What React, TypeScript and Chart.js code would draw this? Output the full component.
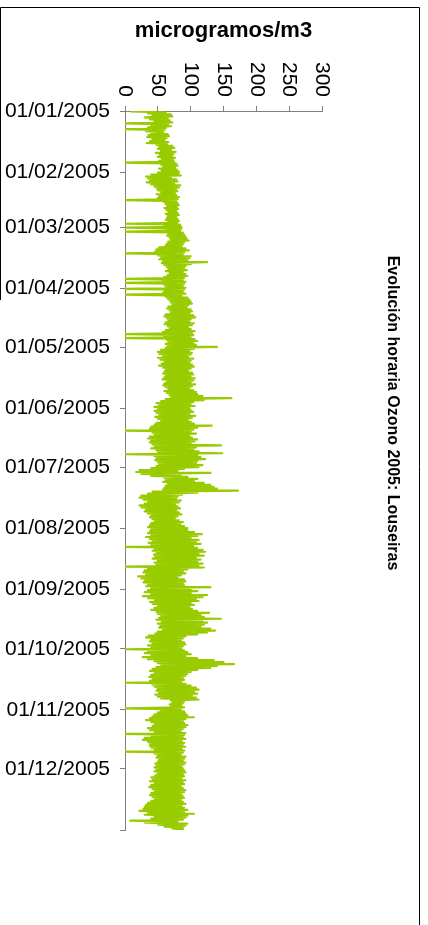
import React, { useEffect, useRef } from "react";
import { Chart, registerables } from "chart.js";

Chart.register(...registerables);

const FONT = '"Liberation Sans", Arial, Helvetica, sans-serif';
const TITLE = "Evolución horaria Ozono 2005: Louseiras";
const AXIS_TITLE = "microgramos/m3";

// day index of each month start (2005) and the date tick labels
const monthStarts = [0, 31, 59, 90, 120, 151, 181, 212, 243, 273, 304, 334, 365];
const dateLabels = [
  "01/01/2005", "01/02/2005", "01/03/2005", "01/04/2005", "01/05/2005", "01/06/2005",
  "01/07/2005", "01/08/2005", "01/09/2005", "01/10/2005", "01/11/2005", "01/12/2005", "",
];

// daily low / high of the hourly ozone values (µg/m3)
const lowJan = [8, 35, 42, 30, 38, 45, 0, 40, 35, 0, 32, 40, 36, 34, 42, 38, 33, 48, 52, 50, 55, 47, 53, 50, 56, 52, 0, 55, 58, 52, 56];
const highJan = [62, 70, 72, 65, 68, 72, 66, 70, 62, 60, 58, 65, 67, 63, 60, 66, 64, 72, 75, 70, 77, 74, 72, 76, 73, 75, 78, 80, 76, 79, 82];
const lowFeb = [50, 40, 32, 35, 38, 33, 40, 45, 48, 50, 55, 48, 52, 50, 0, 60, 62, 64, 60, 63, 66, 62, 65, 64, 62, 66, 0, 60];
const highFeb = [82, 85, 70, 78, 80, 75, 84, 82, 78, 80, 76, 78, 82, 80, 78, 80, 82, 79, 81, 78, 80, 82, 78, 80, 82, 80, 84, 86];
const lowMar = [0, 65, 0, 66, 64, 68, 70, 66, 64, 62, 52, 48, 46, 0, 50, 55, 52, 58, 56, 60, 64, 66, 62, 68, 65, 60, 0, 58, 0, 60, 62];
const highMar = [86, 84, 88, 90, 92, 94, 97, 90, 88, 86, 92, 97, 90, 88, 100, 98, 95, 125, 100, 92, 90, 94, 88, 92, 95, 90, 88, 92, 90, 88, 92];
const lowApr = [0, 60, 58, 0, 62, 65, 68, 70, 72, 66, 64, 68, 70, 62, 60, 64, 66, 62, 60, 65, 68, 62, 58, 0, 60, 0, 64, 66, 62, 65];
const highApr = [90, 88, 92, 86, 95, 98, 100, 102, 96, 94, 100, 102, 98, 104, 107, 100, 98, 105, 102, 96, 100, 106, 102, 104, 100, 106, 110, 104, 108, 140];
const lowMay = [62, 55, 50, 52, 58, 50, 54, 60, 56, 52, 58, 62, 60, 58, 62, 60, 57, 64, 60, 58, 62, 66, 60, 64, 68, 70, 62, 55, 48, 52, 45];
const highMay = [105, 98, 102, 100, 96, 104, 100, 98, 102, 105, 100, 96, 102, 104, 100, 106, 104, 100, 107, 102, 98, 104, 108, 110, 118, 162, 120, 104, 100, 106, 98];
const lowJun = [50, 45, 48, 52, 46, 50, 55, 48, 45, 40, 38, 0, 42, 45, 38, 35, 40, 38, 42, 45, 40, 48, 50, 0, 45, 48, 46, 50, 52, 48];
const highJun = [100, 104, 98, 107, 102, 96, 100, 105, 132, 110, 104, 100, 108, 98, 102, 110, 106, 100, 146, 108, 104, 112, 148, 110, 115, 122, 110, 108, 118, 112];
const lowJul = [40, 22, 17, 25, 40, 60, 62, 58, 65, 62, 60, 58, 42, 35, 25, 22, 28, 35, 30, 22, 25, 32, 30, 35, 40, 38, 42, 45, 40, 38, 35];
const highJul = [90, 80, 130, 85, 95, 110, 105, 120, 130, 135, 140, 172, 110, 87, 80, 78, 85, 82, 76, 80, 84, 78, 82, 86, 80, 76, 82, 88, 84, 90, 95];
const lowAug = [40, 38, 35, 40, 32, 38, 42, 36, 40, 0, 45, 42, 48, 44, 46, 42, 50, 45, 48, 0, 35, 30, 28, 32, 20, 25, 30, 28, 35, 32, 40];
const highAug = [95, 105, 117, 110, 100, 112, 108, 115, 104, 110, 118, 122, 112, 120, 108, 115, 110, 118, 112, 120, 95, 88, 92, 85, 80, 90, 92, 88, 90, 130, 100];
const lowSep = [35, 30, 40, 27, 35, 45, 38, 42, 50, 45, 40, 48, 50, 55, 52, 48, 56, 50, 54, 52, 58, 50, 46, 36, 32, 40, 38, 42, 35, 40];
const highSep = [110, 100, 125, 118, 108, 112, 100, 105, 98, 102, 110, 128, 115, 120, 146, 118, 125, 120, 115, 130, 137, 125, 110, 92, 88, 85, 90, 92, 88, 86];
const lowOct = [0, 35, 30, 40, 27, 35, 45, 50, 55, 48, 42, 38, 45, 40, 37, 42, 38, 0, 42, 45, 50, 48, 52, 46, 50, 55, 70, 72, 68, 70, 0];
const highOct = [90, 95, 100, 92, 110, 135, 150, 166, 140, 130, 110, 100, 95, 92, 88, 90, 86, 92, 100, 108, 112, 105, 110, 102, 108, 112, 90, 88, 86, 90, 85];
const lowNov = [55, 50, 45, 42, 38, 32, 40, 45, 42, 35, 38, 45, 0, 40, 30, 27, 35, 38, 38, 40, 45, 0, 45, 50, 48, 52, 50, 46, 48, 45];
const highNov = [90, 92, 95, 105, 92, 88, 90, 95, 92, 88, 85, 92, 90, 88, 92, 86, 90, 88, 92, 86, 90, 88, 85, 92, 90, 88, 92, 90, 86, 88];
const lowDec = [48, 45, 50, 46, 40, 42, 38, 45, 40, 37, 42, 45, 40, 38, 42, 45, 40, 35, 32, 30, 28, 22, 35, 30, 45, 40, 8, 30, 50, 60, 72];
const highDec = [90, 92, 88, 90, 86, 92, 88, 90, 85, 88, 92, 90, 86, 88, 90, 85, 88, 92, 86, 90, 95, 90, 105, 95, 92, 88, 80, 95, 92, 88, 90];

const lows = [lowJan, lowFeb, lowMar, lowApr, lowMay, lowJun, lowJul, lowAug, lowSep, lowOct, lowNov, lowDec];
const highs = [highJan, highFeb, highMar, highApr, highMay, highJun, highJul, highAug, highSep, highOct, highNov, highDec];

function buildPoints() {
  const pts: { x: number; y: number }[] = [];
  lows.forEach((lo, m) => {
    const hi = highs[m];
    lo.forEach((v, i) => {
      const day = monthStarts[m] + i;
      pts.push({ x: v, y: day + 0.25 });
      pts.push({ x: hi[i], y: day + 0.75 });
    });
  });
  return pts;
}

const decorPlugin = {
  id: "decor",
  beforeDraw(chart: any) {
    const ctx = chart.ctx;
    ctx.save();
    ctx.fillStyle = "#ffffff";
    ctx.fillRect(0, 0, chart.width, chart.height);
    ctx.strokeStyle = "#000000";
    ctx.lineWidth = 1;
    ctx.beginPath();
    ctx.moveTo(0.5, 300);
    ctx.lineTo(0.5, 7.5);
    ctx.lineTo(419.5, 7.5);
    ctx.lineTo(419.5, chart.height);
    ctx.stroke();
    ctx.restore();
  },
  afterDraw(chart: any) {
    const ctx = chart.ctx;
    const xs = chart.scales.x;
    ctx.save();
    ctx.fillStyle = "#000000";
    ctx.font = `21px ${FONT}`;
    ctx.textAlign = "right";
    ctx.textBaseline = "middle";
    xs.ticks.forEach((t: any) => {
      const px = xs.getPixelForValue(t.value);
      ctx.save();
      ctx.translate(px, xs.bottom - 14);
      ctx.rotate(Math.PI / 2);
      ctx.fillText(String(t.value), 0, 0);
      ctx.restore();
    });
    ctx.font = `bold 16px ${FONT}`;
    ctx.textAlign = "center";
    ctx.translate(392, 413);
    ctx.rotate(Math.PI / 2);
    ctx.fillText(TITLE, 0, 0);
    ctx.restore();
  },
};

export default function App() {
  const ref = useRef<HTMLCanvasElement | null>(null);
  useEffect(() => {
    if (!ref.current) return;
    const chart = new Chart(ref.current, {
      type: "scatter",
      data: {
        datasets: [
          {
            data: buildPoints(),
            showLine: true,
            borderColor: "#99cc00",
            backgroundColor: "#99cc00",
            borderWidth: 2.2,
            borderJoinStyle: "round",
            pointRadius: 0,
            tension: 0,
          } as any,
        ],
      },
      options: {
        animation: false,
        responsive: false,
        events: [],
        layout: { padding: { left: 0, top: 7, right: 106, bottom: 95 } },
        plugins: {
          legend: { display: false },
          tooltip: { enabled: false },
          title: { display: false },
        },
        scales: {
          x: {
            type: "linear",
            position: "top",
            min: 0,
            max: 300,
            ticks: { stepSize: 50, display: false },
            grid: { drawOnChartArea: false, drawTicks: true, tickLength: 5, color: "#808080", lineWidth: 1 },
            border: { display: true, color: "#808080", width: 1 },
            title: {
              display: true,
              text: AXIS_TITLE,
              color: "#000000",
              font: { family: FONT, size: 22, weight: "bold" },
              padding: { top: 11, bottom: 0 },
            },
            afterFit: (s: any) => {
              s.height = 104;
              s.paddingLeft = 0;
              s.paddingRight = 0;
            },
          },
          y: {
            type: "linear",
            position: "left",
            min: 0,
            max: 365,
            reverse: true,
            afterBuildTicks: (s: any) => {
              s.ticks = monthStarts.map((v) => ({ value: v }));
            },
            ticks: {
              autoSkip: false,
              padding: 10,
              color: "#000000",
              font: { family: FONT, size: 21 },
              callback: (_v: any, i: number) => dateLabels[i],
            },
            grid: { drawOnChartArea: false, drawTicks: true, tickLength: 5, color: "#808080", lineWidth: 1 },
            border: { display: true, color: "#808080", width: 1 },
            afterFit: (s: any) => {
              s.width = 125;
              s.paddingTop = 0;
              s.paddingBottom = 0;
            },
          },
        },
      } as any,
      plugins: [decorPlugin],
    });
    return () => chart.destroy();
  }, []);

  return (
    <div style={{ position: "absolute", left: 0, top: 0, width: 428, height: 925, overflow: "hidden", background: "#fff" }}>
      <canvas ref={ref} width={428} height={925} style={{ display: "block" }} />
    </div>
  );
}
